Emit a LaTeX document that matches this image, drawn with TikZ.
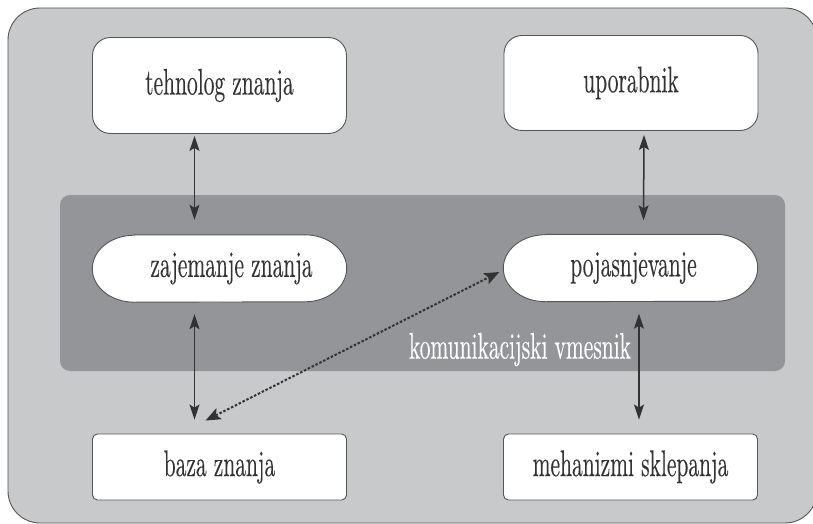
\documentclass[tikz,border=0pt]{standalone}
\usepackage{fontspec}
\usepackage{graphicx}
\usetikzlibrary{arrows.meta,calc}
\newfontfamily\diafont{lmroman10-regular.otf}[FakeBold=0.3]
\definecolor{outerbg}{HTML}{C8C9CB}
\definecolor{bandcol}{HTML}{939598}
\definecolor{edgecol}{HTML}{555555}
\definecolor{inkcol}{HTML}{333333}
\newcommand{\cond}[1]{\scalebox{0.58}[1]{#1}}
\pgfdeclarelayer{bgzero}
\pgfdeclarelayer{bgone}
\pgfsetlayers{bgzero,bgone,main}
\begin{document}
\begin{tikzpicture}[x=1pt,y=-1pt,
  txt/.style={font=\diafont\fontsize{37}{40}\selectfont, text=inkcol, inner sep=0pt},
  boxnode/.style={txt, draw=edgecol, fill=white, line width=0.9pt},
  plainnode/.style={txt, minimum width=254pt, minimum height=67pt},
  arr/.style={draw=inkcol, line width=1.5pt, {Stealth[length=15pt,width=10pt,inset=3pt]}-{Stealth[length=15pt,width=10pt,inset=3pt]}},
  dotarr/.style={draw=inkcol, line width=2pt, dash pattern=on 2.5pt off 1.8pt, {Stealth[length=15pt,width=12pt,inset=3pt]}-{Stealth[length=15pt,width=12pt,inset=3pt]}}
]
\useasboundingbox (0,0) rectangle (813,524);
\begin{pgfonlayer}{bgzero}
  \draw[draw=edgecol, fill=outerbg, line width=0.9pt, rounded corners=32pt] (8,8) rectangle (817,523);
  \fill[bandcol, rounded corners=10pt] (60,195) rectangle (785,371);
\end{pgfonlayer}

\node[boxnode, rounded corners=18pt, minimum width=254pt, minimum height=96pt] (tech) at (219.5,85.5) {\cond{tehnolog znanja}};
\node[boxnode, rounded corners=18pt, minimum width=254pt, minimum height=95pt] (upor) at (631,83) {\cond{uporabnik}};
\node[plainnode] (zaj) at (219.5,268.5) {\hspace*{24pt}\cond{zajemanje znanja}};
\node[plainnode] (poj) at (630.5,268) {\hspace*{6pt}\cond{pojasnjevanje}};
\node[boxnode, rounded corners=5pt, minimum width=254pt, minimum height=66pt] (baza) at (219.5,467) {\cond{baza znanja}};
\node[boxnode, rounded corners=5pt, minimum width=254pt, minimum height=66pt] (meh) at (630.5,467) {\cond{mehanizmi sklepanja}};

\begin{pgfonlayer}{bgone}
  \foreach \n in {zaj,poj}{
    \draw[draw=edgecol, fill=white, line width=0.9pt]
      ($(\n.north west)+(42,0)$) -- ($(\n.north east)+(-42,0)$)
      arc[start angle=90, end angle=-90, x radius=42pt, y radius=33.5pt]
      -- ($(\n.south west)+(42,0)$)
      arc[start angle=270, end angle=90, x radius=42pt, y radius=33.5pt]
      -- cycle;
  }
\end{pgfonlayer}

\node[txt, text=white] (kom) at (520,349.5) {\cond{komunikacijski vmesnik}};

\draw[arr] ($(tech.south)+(-25,2)$) -- ($(zaj.north)+(-25,-15)$);
\draw[arr] ($(zaj.south)+(-25,12)$) -- ($(baza.north)+(-25,-14)$);
\draw[arr] ($(upor.south)+(13,4)$) -- ($(poj.north)+(13,-14)$);
\draw[arr] ($(poj.south)+(8.5,12)$) -- ($(meh.north)+(8.5,-14)$);
\coordinate (dA) at ($(baza.north)+(-14,-13)$);
\coordinate (dB) at ($(poj.west)+(-4,4)$);
\draw[dotarr] (dA) -- (dB);
\end{tikzpicture}
\end{document}
